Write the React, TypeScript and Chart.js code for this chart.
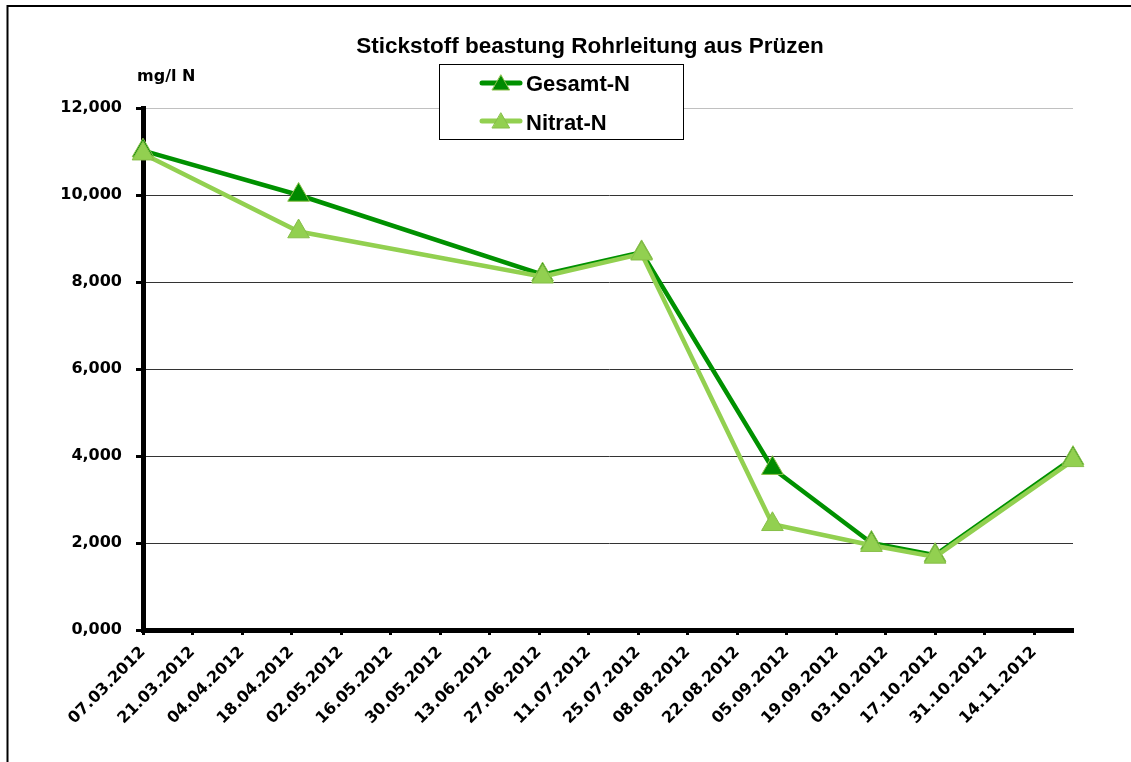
import React, { useEffect, useRef } from "react";
import { Chart, registerables } from "chart.js";

Chart.register(...registerables);

// ---- data ----
const sampleDates = ["07.03.2012", "20.04.2012", "28.06.2012", "26.07.2012", "01.09.2012", "29.09.2012", "17.10.2012", "25.11.2012"];
const gesamtN = [11.02, 10.0, 8.17, 8.68, 3.72, 2.0, 1.72, 3.95];
const nitratN = [10.95, 9.16, 8.12, 8.65, 2.43, 1.95, 1.68, 3.9];
const seriesNames = ["Gesamt-N", "Nitrat-N"];
const chartTitle = "Stickstoff beastung Rohrleitung aus Prüzen";
const yUnit = "mg/l N";
const yTicks = [0, 2, 4, 6, 8, 10, 12];
const xTickStepDays = 14;

const DAY = 86400000;
function parseDate(s: string) {
  const [d, m, y] = s.split(".").map(Number);
  return Date.UTC(y, m - 1, d);
}
const origin = parseDate(sampleDates[0]);
const dayOffsets = sampleDates.map((s) => Math.round((parseDate(s) - origin) / DAY));
function fmtDay(v: number) {
  const d = new Date(origin + v * DAY);
  const dd = String(d.getUTCDate()).padStart(2, "0");
  const mm = String(d.getUTCMonth() + 1).padStart(2, "0");
  return `${dd}.${mm}.${d.getUTCFullYear()}`;
}

const DARK = "#009100";
const LIGHT = "#92D050";

const decorPlugin = {
  id: "decor",
  beforeDraw(chart: any) {
    const ctx = chart.ctx;
    ctx.save();
    ctx.fillStyle = "#fff";
    ctx.fillRect(0, 0, chart.width, chart.height);
    ctx.strokeStyle = "#000";
    ctx.lineWidth = 2;
    ctx.strokeRect(7.5, 6, 1300, 900);
    ctx.restore();
  },
  afterDraw(chart: any) {
    const ctx = chart.ctx;
    ctx.save();
    // title
    ctx.fillStyle = "#000";
    ctx.font = "bold 22.5px 'Liberation Sans', Arial, sans-serif";
    ctx.textAlign = "center";
    ctx.textBaseline = "alphabetic";
    ctx.fillText(chartTitle, 590, 53);
    // unit label
    ctx.font = "bold 16px 'DejaVu Sans', sans-serif";
    ctx.textAlign = "left";
    ctx.fillText(yUnit, 137, 81);
    // legend
    ctx.fillStyle = "#fff";
    ctx.fillRect(439.5, 64.5, 244, 75);
    ctx.strokeStyle = "#000";
    ctx.lineWidth = 1;
    ctx.strokeRect(439.5, 64.5, 244, 75);
    const ds = chart.data.datasets;
    const rows = [83, 121];
    const base = [91, 130];
    ds.forEach((d: any, i: number) => {
      const y = rows[i];
      ctx.strokeStyle = d.borderColor;
      ctx.lineWidth = 5;
      ctx.lineCap = "round";
      ctx.beginPath();
      ctx.moveTo(482, y);
      ctx.lineTo(520, y);
      ctx.stroke();
      // triangle
      const r = 10;
      const cx = 501;
      const cy = y + 2;
      ctx.beginPath();
      ctx.moveTo(cx, cy - r);
      ctx.lineTo(cx + r * 0.866, cy + r / 2);
      ctx.lineTo(cx - r * 0.866, cy + r / 2);
      ctx.closePath();
      ctx.fillStyle = d.pointBackgroundColor;
      ctx.fill();
      ctx.strokeStyle = d.pointBorderColor;
      ctx.lineWidth = 1;
      ctx.stroke();
      ctx.fillStyle = "#000";
      ctx.font = "bold 22px 'Liberation Sans', Arial, sans-serif";
      ctx.textAlign = "left";
      ctx.fillText(d.label, 526, base[i]);
    });
    ctx.restore();
  },
};

export default function App() {
  const ref = useRef<HTMLCanvasElement>(null);
  useEffect(() => {
    if (!ref.current) return;
    const mk = (vals: number[]) => vals.map((v, i) => ({ x: dayOffsets[i], y: v }));
    const tickFont = { family: "'DejaVu Sans', sans-serif", weight: "bold" as const, size: 16 };
    const chart = new Chart(ref.current, {
      type: "line",
      data: {
        datasets: [
          {
            label: seriesNames[0],
            data: mk(gesamtN),
            borderColor: DARK,
            backgroundColor: DARK,
            borderWidth: 4.5,
            pointStyle: "triangle",
            pointRadius: 12.5,
            pointBackgroundColor: "#008A00",
            pointBorderColor: "#8CC04A",
            pointBorderWidth: 1,
            tension: 0,
            order: 1,
            clip: false as any,
          },
          {
            label: seriesNames[1],
            data: mk(nitratN),
            borderColor: LIGHT,
            backgroundColor: LIGHT,
            borderWidth: 4.5,
            pointStyle: "triangle",
            pointRadius: 12.5,
            pointBackgroundColor: LIGHT,
            pointBorderColor: "#86BE48",
            pointBorderWidth: 1,
            tension: 0,
            order: 0,
            clip: false as any,
          },
        ],
      },
      options: {
        responsive: false,
        animation: false,
        devicePixelRatio: 1,
        layout: { padding: { left: 0, right: 58, top: 108, bottom: 0 } },
        plugins: { legend: { display: false }, title: { display: false }, tooltip: { enabled: false } },
        scales: {
          x: {
            type: "linear",
            min: 0,
            max: dayOffsets[dayOffsets.length - 1],
            afterFit: (s: any) => {
              s.height = 132;
            },
            ticks: {
              stepSize: xTickStepDays,
              includeBounds: false,
              autoSkip: false,
              minRotation: 45,
              maxRotation: 45,
              padding: 8,
              color: "#000",
              font: tickFont,
              callback: (v: any) => fmtDay(Number(v)),
            },
            grid: {
              drawOnChartArea: false,
              drawTicks: true,
              tickLength: 5,
              tickWidth: 3,
              tickColor: "#000",
            },
            border: { display: true, color: "#000", width: 5 },
          },
          y: {
            min: yTicks[0],
            max: yTicks[yTicks.length - 1],
            afterFit: (s: any) => {
              s.width = 143;
            },
            afterBuildTicks: (s: any) => {
              s.ticks = yTicks.map((v) => ({ value: v }));
            },
            ticks: {
              padding: 14,
              color: "#000",
              font: tickFont,
              callback: (v: any) => Number(v).toFixed(3).replace(".", ","),
            },
            grid: {
              drawOnChartArea: true,
              lineWidth: 1,
              color: (c: any) => (c.tick && c.tick.value === 12 ? "#c0c0c0" : "#333333"),
              tickLength: 7,
              tickWidth: 3,
              tickColor: "#000",
            },
            border: { display: true, color: "#000", width: 5 },
          },
        },
      },
      plugins: [decorPlugin],
    });
    return () => chart.destroy();
  }, []);
  return (
    <div style={{ position: "fixed", left: 0, top: 0, width: 1131, height: 762, overflow: "hidden", background: "#fff" }}>
      <canvas ref={ref} width={1131} height={762} style={{ display: "block", width: 1131, height: 762 }} />
    </div>
  );
}
